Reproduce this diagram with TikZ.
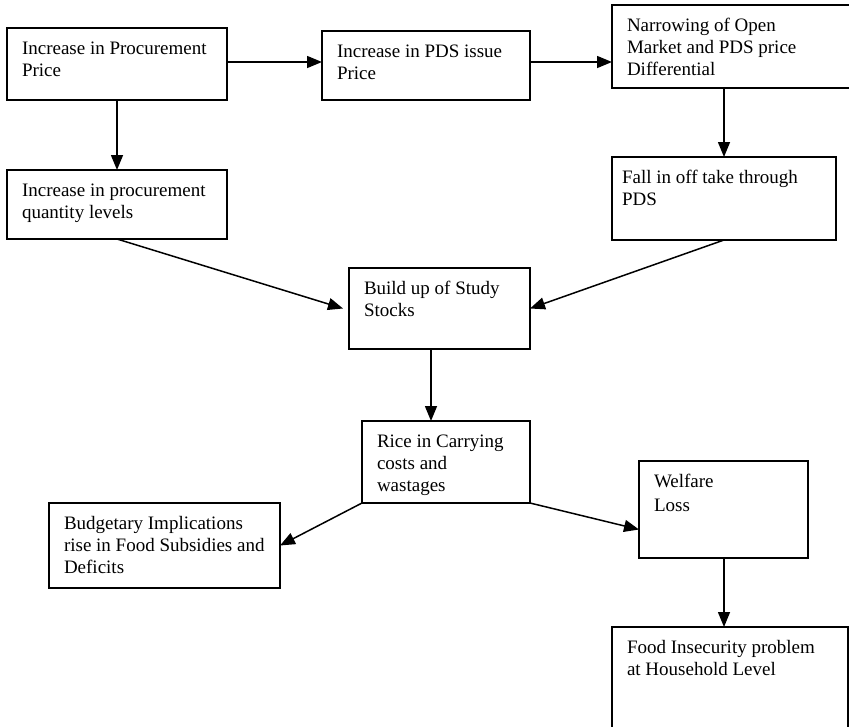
\documentclass[tikz,border=0pt]{standalone}
\usepackage{fontspec}
\setmainfont{Liberation Serif}
\usetikzlibrary{arrows.meta}
\tikzset{
  box/.style={draw, line width=1.7pt, anchor=north west, inner xsep=15pt, inner ysep=11pt, outer sep=0pt,
    font=\fontsize{19}{22}\selectfont},
  arr/.style={line width=1.5pt, -{Triangle[length=15pt,width=12pt]}}
}
\newcommand\fbx[7][]{\node[box,#1] (#2) at (#3,#4) {\parbox[c][\dimexpr #6pt-22pt\relax][t]{\dimexpr #5pt-30pt\relax}{\raggedright\strut #7}};}
\begin{document}
\begin{tikzpicture}[x=1pt,y=-1pt]
\useasboundingbox (0,0) rectangle (849,726);
\fill[white] (0,0) rectangle (849,726);
\clip (0,0) rectangle (849,726);
\fbx{A}{7}{28}{220}{72}{Increase in Procurement\\Price}
\fbx{B}{322}{31}{208}{69}{Increase in PDS issue\\Price}
\fbx{C}{612}{5}{245}{83}{Narrowing of Open\\Market and PDS price\\Differential}
\fbx{D}{7}{170}{220}{69}{Increase in procurement\\quantity levels}
\fbx[inner xsep=10pt]{E}{612}{157}{234}{83}{Fall in off take through\\PDS}
\fbx{F}{349}{268}{181}{81}{Build up of Study\\Stocks}
\fbx{G}{362}{421}{168}{82}{Rice in Carrying\\costs and\\wastages}
\fbx{H}{639}{461}{169}{97}{Welfare\\[2pt]Loss}
\fbx{I}{49}{503}{231}{85}{Budgetary Implications\\rise in Food Subsidies and\\Deficits}
\fbx{J}{612}{627}{236}{110}{Food Insecurity problem\\at Household Level}
\draw[arr] ([yshift=2pt]A.east) -- ([yshift=2pt]A.east -| B.west);
\draw[arr] ([yshift=3.5pt]B.east) -- ([yshift=3.5pt]B.east -| C.west);
\draw[arr] (A.south) -- (A.south |- D.north);
\draw[arr] (E.north |- C.south) -- (E.north);
\draw[arr] (D.south) -- ([xshift=-6pt]F.west);
\draw[arr] (E.south) -- (F.east);
\draw[arr] ([xshift=-8.5pt]F.south) -- ([xshift=-8.5pt]F.south |- G.north);
\draw[arr] (G.south west) -- (I.east);
\draw[arr] (G.south east) -- ([yshift=-20pt]H.west);
\draw[arr] ([xshift=0.5pt]H.south) -- ([xshift=0.5pt]H.south |- J.north);
\end{tikzpicture}
\end{document}
